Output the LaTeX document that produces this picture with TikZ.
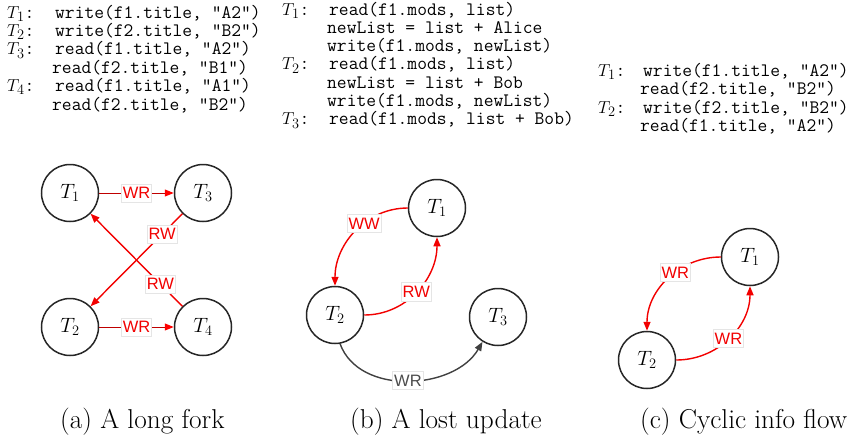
\documentclass[tikz,border=0pt]{standalone}
\usepackage{fontspec}
\newfontfamily\lblfont{Liberation Sans}
\usetikzlibrary{arrows.meta}
\begin{document}
\begin{tikzpicture}[x=1pt,y=1pt,
  tn/.style={circle,draw=black!85,line width=1.5pt,minimum size=57pt,inner sep=0pt,font=\fontsize{22}{22}\selectfont},
  lb/.style={fill=white,draw=black!10,line width=0.6pt,inner xsep=1.5pt,inner ysep=3.5pt,font=\lblfont\fontsize{16.5}{16.5}\selectfont,text=red!95!black},
  re/.style={draw=red!95!black,line width=1.4pt,-{Triangle[length=9pt,width=7pt]}},
  ra/.style={draw=red!75!black,line width=1pt,-{Triangle[length=9pt,width=7pt,color=red]}},
  ge/.style={draw=black!75,line width=1.4pt,-{Triangle[length=9pt,width=7pt]}},
  code/.style={anchor=base west,inner sep=0pt,font=\fontsize{19}{19}\selectfont},
  capt/.style={anchor=base west,inner sep=0pt,font=\fontsize{27.3}{27.3}\selectfont}]
\path[use as bounding box] (0,0) rectangle (850,-437);

% ---- code (a)
\node[code] (a1) at (7,-18) {$T_1$\texttt{:}};
\node[code] (a1c) at (55,-18) {\texttt{write(f1.title, "A2")}};
\node[code] (a2) at (7,-36.4) {$T_2$\texttt{:}};
\node[code] (a2c) at (55,-36.4) {\texttt{write(f2.title, "B2")}};
\node[code] (a3) at (7,-54.8) {$T_3$\texttt{:}};
\node[code] (a3c) at (55,-54.8) {\texttt{read(f1.title, "A2")}};
\node[code] (a4c) at (52,-73.2) {\texttt{read(f2.title, "B1")}};
\node[code] (a5) at (7,-91.6) {$T_4$\texttt{:}};
\node[code] (a5c) at (55,-91.6) {\texttt{read(f1.title, "A1")}};
\node[code] (a6c) at (52,-110) {\texttt{read(f2.title, "B2")}};

% ---- code (b)
\node[code] (b1) at (282,-15) {$T_1$\texttt{:}};
\node[code] (b1c) at (329,-15) {\texttt{read(f1.mods, list)}};
\node[code] (b2c) at (327,-33.3) {\texttt{newList = list + Alice}};
\node[code] (b3c) at (327,-51.6) {\texttt{write(f1.mods, newList)}};
\node[code] (b4) at (282,-69.9) {$T_2$\texttt{:}};
\node[code] (b4c) at (329,-69.9) {\texttt{read(f1.mods, list)}};
\node[code] (b5c) at (327,-88.2) {\texttt{newList = list + Bob}};
\node[code] (b6c) at (327,-106.5) {\texttt{write(f1.mods, newList)}};
\node[code] (b7) at (282,-124.8) {$T_3$\texttt{:}};
\node[code] (b7c) at (329,-124.8) {\texttt{read(f1.mods, list + Bob)}};

% ---- code (c)
\node[code] (c1) at (598,-76) {$T_1$\texttt{:}};
\node[code] (c1c) at (643,-76) {\texttt{write(f1.title, "A2")}};
\node[code] (c2c) at (640,-94.5) {\texttt{read(f2.title, "B2")}};
\node[code] (c3) at (598,-113) {$T_2$\texttt{:}};
\node[code] (c3c) at (643,-113) {\texttt{write(f2.title, "B2")}};
\node[code] (c4c) at (640,-131.5) {\texttt{read(f1.title, "A2")}};

% ---- graph (a)
\node[tn] (A1) at (70,-193) {$T_1$};
\node[tn] (A3) at (203,-193) {$T_3$};
\node[tn] (A2) at (70,-327) {$T_2$};
\node[tn] (A4) at (203,-327) {$T_4$};
\draw[ra] (A1) -- node[lb]{WR} (A3);
\draw[ra] (A2) -- node[lb]{WR} (A4);
\draw[re] (A3) -- node[lb,pos=0.22]{RW} (A2);
\draw[re] (A4) -- node[lb,pos=0.24]{RW} (A1);

% ---- graph (b)
\node[tn] (B1) at (437,-208) {$T_1$};
\node[tn] (B2) at (335,-315) {$T_2$};
\node[tn] (B3) at (498,-317) {$T_3$};
\draw[re] (B1.west) to[out=180,in=90] node[lb,pos=0.4]{WW} (B2.north);
\draw[re] (B2.east) to[out=0,in=-90] node[lb]{RW} (B1.south);
\draw[ge] (B2.-80) to[out=-70,in=-120] node[lb,text=black!70]{WR} (B3.-122);

% ---- graph (c)
\node[tn] (C1) at (750,-257) {$T_1$};
\node[tn] (C2) at (647,-360) {$T_2$};
\draw[re] (C1.west) to[out=180,in=90] node[lb,pos=0.42]{WR} (C2.north);
\draw[re] (C2.east) to[out=0,in=-90] node[lb]{WR} (C1.south);

% ---- captions
\node[capt] (capa) at (60,-428) {(a) A long fork};
\node[capt] (capb) at (350,-428) {(b) A lost update};
\node[capt] (capc) at (640,-428) {(c) Cyclic info flow};
\end{tikzpicture}
\end{document}
